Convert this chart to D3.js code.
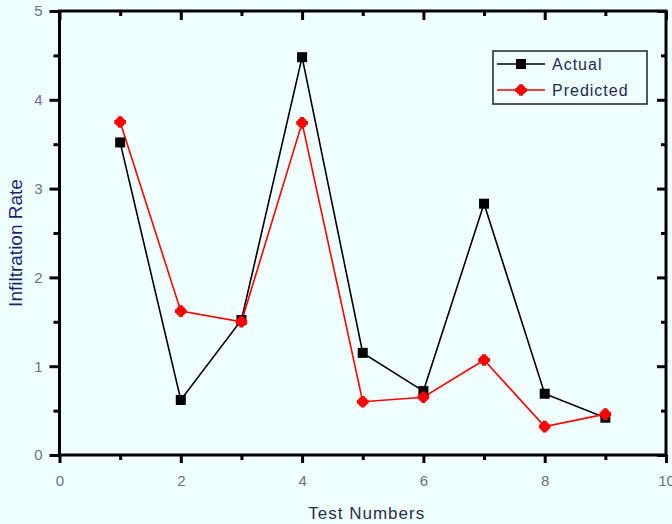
<!DOCTYPE html>
<html>
<head>
<meta charset="utf-8">
<script src="https://cdn.jsdelivr.net/npm/d3@7"></script>
<style>
  body { margin: 0; background: #f0ffff; }
  svg { display: block; }
</style>
</head>
<body>
<div id="chart"></div>
<script>
// data
const testNumbers = [1, 2, 3, 4, 5, 6, 7, 8, 9];
const actual = [3.52, 0.62, 1.52, 4.48, 1.15, 0.72, 2.83, 0.69, 0.42];
const predicted = [3.75, 1.62, 1.50, 3.74, 0.60, 0.65, 1.07, 0.32, 0.46];
const xTicks = [0, 2, 4, 6, 8, 10];
const yTicks = [0, 1, 2, 3, 4, 5];

const W = 672, H = 524;
const margin = { top: 11, right: 6, bottom: 69, left: 59.5 };
const width = W - margin.left - margin.right;
const height = H - margin.top - margin.bottom;

const svg = d3.select("#chart").append("svg")
    .attr("width", W)
    .attr("height", H)
    .style("background", "#f0ffff");

const g = svg.append("g")
    .attr("transform", `translate(${margin.left},${margin.top})`);

const x = d3.scaleLinear().domain([0, 10]).range([0, width]);
const y = d3.scaleLinear().domain([0, 5]).range([height, 0]);

const tickColor = "#6b6f8e";

// bottom axis, outward ticks
g.append("g")
    .attr("transform", `translate(0,${height})`)
    .call(d3.axisBottom(x).tickValues(d3.range(0, 11, 1)).tickSize(5).tickFormat(""))
    .call(a => a.select(".domain").remove())
    .selectAll(".tick line").attr("stroke", "#000").attr("stroke-width", 3)
    .attr("y2", d => d % 2 === 0 ? 8 : 5);

g.append("g")
    .attr("transform", `translate(0,${height})`)
    .call(d3.axisBottom(x).tickValues(xTicks).tickSize(0).tickPadding(20).tickFormat(d3.format("d")))
    .call(a => a.select(".domain").remove())
    .selectAll(".tick text")
    .attr("fill", tickColor)
    .style("font-family", "Liberation Sans, Arial, sans-serif")
    .style("font-size", "15px");

// left axis, outward ticks
g.append("g")
    .call(d3.axisLeft(y).tickValues(d3.range(0, 5.01, 0.5)).tickSize(5).tickFormat(""))
    .call(a => a.select(".domain").remove())
    .selectAll(".tick line").attr("stroke", "#000").attr("stroke-width", 3)
    .attr("x2", (d, i) => i % 2 === 0 ? -10 : -6);

g.append("g")
    .call(d3.axisLeft(y).tickValues(yTicks).tickSize(0).tickPadding(17).tickFormat(d3.format("d")))
    .call(a => a.select(".domain").remove())
    .selectAll(".tick text")
    .attr("fill", tickColor)
    .style("font-family", "Liberation Sans, Arial, sans-serif")
    .style("font-size", "15px");

// top axis, inward ticks
g.append("g")
    .call(d3.axisTop(x).tickValues(d3.range(0, 11, 1)).tickFormat(""))
    .call(a => a.select(".domain").remove())
    .selectAll(".tick line").attr("stroke", "#000").attr("stroke-width", 3)
    .attr("y2", d => d % 2 === 0 ? 9 : 5);

// right axis, inward ticks
g.append("g")
    .attr("transform", `translate(${width},0)`)
    .call(d3.axisRight(y).tickValues(d3.range(0, 5.01, 0.5)).tickFormat(""))
    .call(a => a.select(".domain").remove())
    .selectAll(".tick line").attr("stroke", "#000").attr("stroke-width", 3)
    .attr("x2", (d, i) => i % 2 === 0 ? -9 : -5);

// frame
g.append("rect")
    .attr("width", width)
    .attr("height", height)
    .attr("fill", "none")
    .attr("stroke", "#000")
    .attr("stroke-width", 3);

// lines
const line = d3.line()
    .x((d, i) => x(testNumbers[i]))
    .y(d => y(d));

g.append("path")
    .datum(actual)
    .attr("fill", "none")
    .attr("stroke", "#000")
    .attr("stroke-width", 1.6)
    .attr("d", line);

g.append("path")
    .datum(predicted)
    .attr("fill", "none")
    .attr("stroke", "#ff0000")
    .attr("stroke-width", 1.6)
    .attr("d", line);

// markers
g.selectAll(".pt-actual")
    .data(actual)
    .join("rect")
    .attr("x", (d, i) => x(testNumbers[i]) - 5)
    .attr("y", d => y(d) - 5)
    .attr("width", 10)
    .attr("height", 10)
    .attr("fill", "#000");

const dot = d3.symbol().type(d3.symbolCircle).size(80);
const cross = d3.symbol().type(d3.symbolCross).size(75);
g.selectAll(".pt-pred")
    .data(predicted)
    .join("path")
    .attr("transform", (d, i) => `translate(${x(testNumbers[i])},${y(d)})`)
    .attr("d", dot)
    .attr("fill", "#ff0000");
g.selectAll(".pt-pred2")
    .data(predicted)
    .join("path")
    .attr("transform", (d, i) => `translate(${x(testNumbers[i])},${y(d)})`)
    .attr("d", cross)
    .attr("fill", "#ff0000");

// legend
const legend = svg.append("g").attr("transform", "translate(493,51)");
legend.append("rect")
    .attr("width", 154)
    .attr("height", 53)
    .attr("fill", "#f0ffff")
    .attr("stroke", "#222")
    .attr("stroke-width", 1.5);

const legendItems = [
    { name: "Actual", color: "#000", yPos: 13 },
    { name: "Predicted", color: "#ff0000", yPos: 39 }
];
legendItems.forEach(item => {
    legend.append("line")
        .attr("x1", 4).attr("x2", 52)
        .attr("y1", item.yPos).attr("y2", item.yPos)
        .attr("stroke", item.color)
        .attr("stroke-width", 1.6);
    if (item.name === "Actual") {
        legend.append("rect")
            .attr("x", 23).attr("y", item.yPos - 5)
            .attr("width", 10).attr("height", 10)
            .attr("fill", item.color);
    } else {
        legend.append("path")
            .attr("transform", `translate(28,${item.yPos})`)
            .attr("d", dot)
            .attr("fill", item.color);
        legend.append("path")
            .attr("transform", `translate(28,${item.yPos})`)
            .attr("d", cross)
            .attr("fill", item.color);
    }
    legend.append("text")
        .attr("x", 59)
        .attr("y", item.yPos + 6)
        .attr("fill", "#1f2a55")
        .style("font-family", "Liberation Sans, Arial, sans-serif")
        .style("font-size", "16px")
        .style("letter-spacing", "1px")
        .text(item.name);
});

// axis titles
svg.append("text")
    .attr("x", margin.left + width / 2 + 4)
    .attr("y", 519)
    .attr("text-anchor", "middle")
    .attr("fill", "#2a2f4a")
    .style("font-family", "Liberation Sans, Arial, sans-serif")
    .style("font-size", "17px")
    .style("letter-spacing", "1px")
    .text("Test Numbers");

svg.append("text")
    .attr("transform", "translate(22,243) rotate(-90)")
    .attr("text-anchor", "middle")
    .attr("fill", "#1a1f7a")
    .style("font-family", "Liberation Sans, Arial, sans-serif")
    .style("font-size", "19px")
    .text("Infiltration Rate");
</script>
</body>
</html>
